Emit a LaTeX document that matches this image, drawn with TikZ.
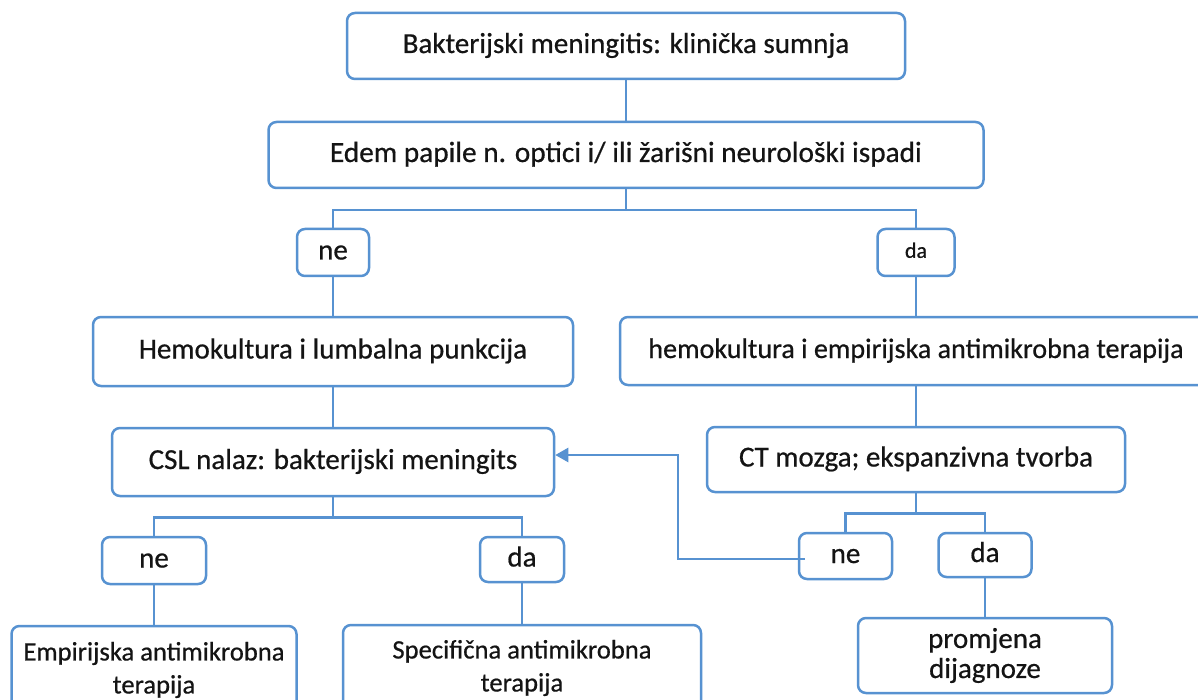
\documentclass[tikz,border=0pt]{standalone}
\usepackage{fontspec}
\setmainfont{Carlito}[FakeBold=0.6]
\usetikzlibrary{arrows.meta}
\definecolor{lineblue}{RGB}{87,146,209}
\definecolor{textdark}{RGB}{20,20,20}
\tikzset{
  box/.style={draw=lineblue, line width=2.5pt, rounded corners=8pt, fill=white,
    inner sep=0pt, align=center, anchor=center, text=textdark},
  one/.style={text height=21.5pt, text depth=7.5pt},
  conn/.style={draw=lineblue, line width=2.5pt},
  big/.style={font=\fontsize{29}{33}\selectfont},
  mid/.style={font=\fontsize{26.6}{33}\selectfont},
}
\begin{document}
\begin{tikzpicture}[x=1pt,y=-1pt]
\useasboundingbox (0,0) rectangle (1198,700);
\clip (0,0) rectangle (1198,700);
\fill[white] (0,0) rectangle (1198,700);

\node[box,one,big,minimum width=558pt,minimum height=66pt] (top) at (626,46) {Bakterijski meningitis: klinička sumnja};
\node[box,one,font=\fontsize{29.3}{33}\selectfont,minimum width=715pt,minimum height=66pt] (edem) at (626,155) {Edem papile n. optici i/ ili žarišni neurološki ispadi};
\node[box,one,big,minimum width=72pt,minimum height=47pt] (ne1) at (333,252.5) {ne};
\node[box,text height=16.3pt,text depth=5.7pt,font=\fontsize{22}{26}\selectfont,minimum width=77pt,minimum height=47pt] (da1) at (916,252.5) {da};
\node[box,one,big,minimum width=480pt,minimum height=69pt] (hemoL) at (333,351.5) {Hemokultura i lumbalna punkcija};
\node[box,one,font=\fontsize{28.1}{33}\selectfont,minimum width=592pt,minimum height=68pt] (hemoR) at (916,351) {hemokultura i empirijska antimikrobna terapija};
\node[box,one,big,minimum width=442pt,minimum height=68pt] (csl) at (333,462) {CSL nalaz: bakterijski meningits};
\node[box,one,big,minimum width=418pt,minimum height=65pt] (ct) at (916,459.5) {CT mozga; ekspanzivna tvorba};
\node[box,one,big,minimum width=104pt,minimum height=47pt] (ne2) at (154,560.5) {ne};
\node[box,one,big,minimum width=84pt,minimum height=45pt] (da2) at (522,559.5) {da};
\node[box,one,big,minimum width=93pt,minimum height=46pt] (ne3) at (845.5,556) {ne};
\node[box,one,big,minimum width=93pt,minimum height=44pt] (da3) at (985,555) {da};
\node[box,mid,minimum width=285pt,minimum height=88pt] (emp) at (154,670) {Empirijska antimikrobna\\terapija};
\node[box,mid,minimum width=358pt,minimum height=86pt] (spec) at (522,668) {Specifična antimikrobna\\terapija};
\node[box,font=\fontsize{29}{30}\selectfont,minimum width=254pt,minimum height=75pt] (prom) at (985,655.5) {\raisebox{-2pt}{promjena}\\\raisebox{-2pt}{dijagnoze}};

\draw[conn] (top.south) -- (edem.north);
\draw[conn] (edem.south) -- ++(0,21) coordinate (j1);
\draw[conn] (j1) -| (ne1.north);
\draw[conn] (j1) -| (da1.north);
\draw[conn] (ne1.south) -- (hemoL.north);
\draw[conn] (da1.south) -- (hemoR.north);
\draw[conn] (hemoL.south) -- (csl.north);
\draw[conn] (hemoR.south) -- (ct.north);
\draw[conn] (csl.south) -- ++(0,20) coordinate (j2);
\draw[conn] (j2) -| (ne2.north);
\draw[conn] (j2) -| (da2.north);
\draw[conn] (ct.south) -- ++(0,20) coordinate (j3);
\draw[conn] (j3) -| (ne3.north);
\draw[conn] (j3) -| (da3.north);
\draw[conn] (ne2.south) -- (emp.north);
\draw[conn] (da2.south) -- (spec.north);
\draw[conn] (da3.south) -- (prom.north);
\draw[conn,-{Triangle[length=13pt,width=14pt]}] ([xshift=7pt,yshift=-3pt]ne3.west) -- ++(-127,0) |- ([yshift=7pt]csl.east);
\end{tikzpicture}
\end{document}
